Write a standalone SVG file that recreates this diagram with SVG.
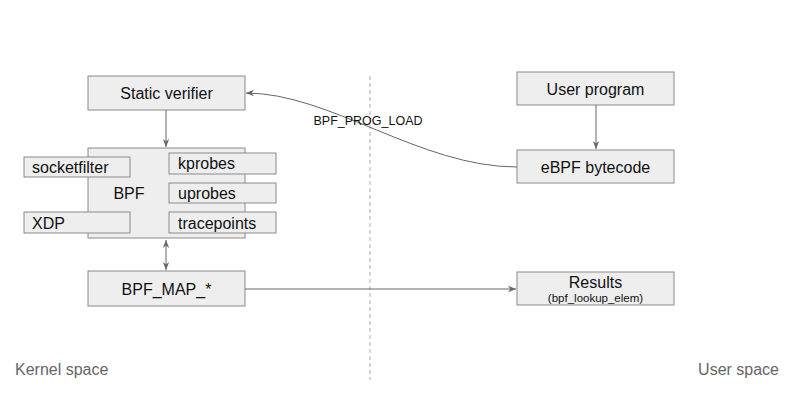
<svg xmlns="http://www.w3.org/2000/svg" width="800" height="414" viewBox="0 0 800 414">
<style>
.box{fill:#eeeeee;stroke:#8a8a8a;stroke-width:1}
.t{font-family:"Liberation Sans",Arial,sans-serif;font-size:16px;fill:#111}
.c{text-anchor:middle}
.lbl{font-family:"Liberation Sans",Arial,sans-serif;font-size:16px;fill:#666}
.e{fill:none;stroke:#666;stroke-width:1}
</style>
<defs>
<marker id="ah" viewBox="0 0 10 10" refX="10" refY="5" markerWidth="8" markerHeight="8" orient="auto-start-reverse" markerUnits="userSpaceOnUse">
<path d="M0,1 L10,5 L0,9 L3,5 z" fill="#666"/>
</marker>
</defs>
<rect width="800" height="414" fill="#fff"/>
<line x1="370" y1="76" x2="370" y2="380" stroke="#aaa" stroke-dasharray="4,3"/>
<g id="kernel-label"><text class="lbl" x="15" y="375">Kernel space</text></g>
<g id="user-label"><text class="lbl" x="779" y="375" text-anchor="end">User space</text></g>
<g id="static-verifier"><rect class="box" x="88" y="76" width="157" height="34"/><text class="t c" x="166.5" y="99">Static verifier</text></g>
<g id="bpf"><rect class="box" x="88" y="148" width="157" height="90"/><text class="t c" x="129" y="199">BPF</text></g>
<g id="socketfilter"><rect class="box" x="24" y="157" width="106" height="20"/><text class="t" x="32" y="173">socketfilter</text></g>
<g id="xdp"><rect class="box" x="24" y="212" width="106" height="21"/><text class="t" x="32" y="229">XDP</text></g>
<g id="kprobes"><rect class="box" x="169" y="153" width="107" height="21"/><text class="t" x="178" y="169">kprobes</text></g>
<g id="uprobes"><rect class="box" x="169" y="183" width="107" height="20"/><text class="t" x="178" y="199">uprobes</text></g>
<g id="tracepoints"><rect class="box" x="169" y="212" width="107" height="21"/><text class="t" x="178" y="229">tracepoints</text></g>
<g id="bpf-map"><rect class="box" x="88" y="271" width="157" height="35"/><text class="t c" x="166.5" y="295">BPF_MAP_*</text></g>
<g id="user-program"><rect class="box" x="517" y="72" width="157" height="33"/><text class="t c" x="595.5" y="95">User program</text></g>
<g id="ebpf-bytecode"><rect class="box" x="517" y="150" width="157" height="33"/><text class="t c" x="595.5" y="173">eBPF bytecode</text></g>
<g id="results"><rect class="box" x="517" y="272" width="157" height="33"/><text class="t c" x="595.5" y="288">Results</text><text class="c" x="595.5" y="302" font-family="Liberation Sans,Arial,sans-serif" font-size="11.5" fill="#111">(bpf_lookup_elem)</text></g>
<g id="connectors">
<line class="e" x1="166" y1="110" x2="166" y2="147" marker-end="url(#ah)"/>
<line class="e" x1="166" y1="240" x2="166" y2="270" marker-start="url(#ah)" marker-end="url(#ah)"/>
<line class="e" x1="596" y1="105" x2="596" y2="149" marker-end="url(#ah)"/>
<line class="e" x1="245" y1="289" x2="516" y2="289" marker-end="url(#ah)"/>
<path class="e" d="M517,167 C420,167 330,93 246,93" marker-end="url(#ah)"/>
<text x="368" y="125" text-anchor="middle" font-family="Liberation Sans,Arial,sans-serif" font-size="12.5" fill="#111">BPF_PROG_LOAD</text>
</g>
</svg>
